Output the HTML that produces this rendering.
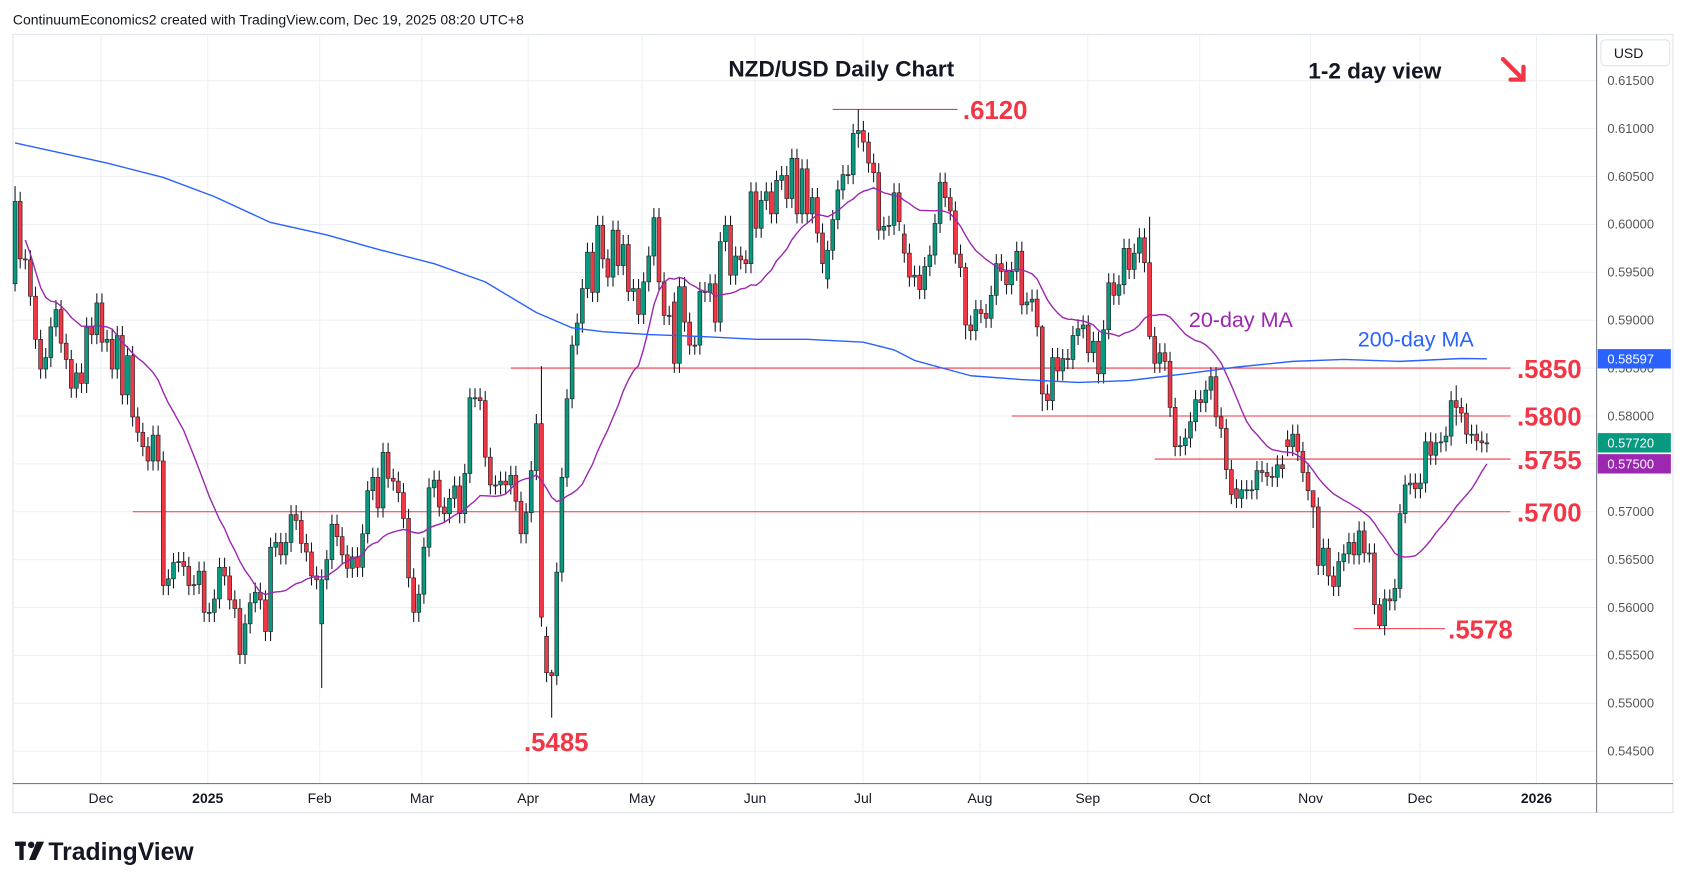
<!DOCTYPE html>
<html><head><meta charset="utf-8">
<style>
html,body{margin:0;padding:0;background:#fff;width:1687px;height:889px;overflow:hidden;font-family:"Liberation Sans",sans-serif;}
svg{display:block}
</style></head>
<body>
<svg id="chart" width="1687" height="889" viewBox="0 0 1568 826" preserveAspectRatio="none" xmlns="http://www.w3.org/2000/svg">
  <text x="12" y="23" font-size="13" fill="#131722">ContinuumEconomics2 created with TradingView.com, Dec 19, 2025 08:20 UTC+8</text>
  <rect x="12" y="32" width="1543" height="723" fill="none" stroke="#e0e3eb" stroke-width="1"/>
  <g id="grid"></g>
  <g id="levels"></g>
  <g id="candles"></g>
  <g id="mas"></g>
  <line x1="1484" y1="32" x2="1484" y2="755" stroke="#787b86" stroke-width="1"/>
  <line x1="12" y1="728" x2="1555" y2="728" stroke="#787b86" stroke-width="1"/>
  <g id="yaxis"></g>
  <g id="xaxis"></g>
  <rect x="1488" y="37" width="64" height="24" rx="4" fill="#fff" stroke="#e0e3eb"/>
  <text x="1500" y="54" font-size="13" fill="#131722">USD</text>
  <text x="677" y="71" font-size="21" font-weight="bold" fill="#131722">NZD/USD Daily Chart</text>
  <text x="1216" y="73" font-size="21" font-weight="bold" fill="#131722">1-2 day view</text>
  <g stroke="#f23645" stroke-width="4" fill="none" stroke-linecap="round">
    <line x1="1397" y1="55" x2="1415" y2="73"/><polyline points="1404,74 1416,74 1416,62"/>
  </g>
  <text x="1105" y="304" font-size="20" fill="#9c27b0">20-day MA</text>
  <text x="1262" y="322" font-size="20" fill="#2962ff">200-day MA</text>
  <g id="tags"></g>
  <g>
    <rect x="14" y="782" width="10" height="4" fill="#131722"/><rect x="18" y="782" width="4" height="17" fill="#131722"/>
    <circle cx="29" cy="785" r="3" fill="#131722"/><polygon points="34,782 41,782 33,799 27,799" fill="#131722"/>
    <text x="45" y="799" font-size="23" font-weight="bold" fill="#131722">TradingView</text>
  </g>
</svg>
<script>
const closes=[0.6024,0.5964,0.5963,0.5925,0.5880,0.5849,0.5861,0.5893,0.5911,0.5876,0.5859,0.5829,0.5845,0.5834,0.5893,0.5885,0.5918,0.5877,0.5880,0.5849,0.5884,0.5822,0.5863,0.5799,0.5783,0.5768,0.5753,0.5780,0.5753,0.5623,0.5630,0.5647,0.5648,0.5643,0.5623,0.5624,0.5638,0.5595,0.5595,0.5609,0.5642,0.5633,0.5608,0.5599,0.5551,0.5583,0.5605,0.5616,0.5608,0.5575,0.5663,0.5668,0.5655,0.5668,0.5697,0.5691,0.5667,0.5658,0.5633,0.5629,0.5629,0.5650,0.5687,0.5674,0.5655,0.5641,0.5653,0.5642,0.5677,0.5722,0.5736,0.5704,0.5762,0.5735,0.5732,0.5720,0.5693,0.5631,0.5595,0.5614,0.5663,0.5725,0.5733,0.5705,0.5698,0.5714,0.5727,0.5698,0.5740,0.5819,0.5819,0.5816,0.5757,0.5728,0.5728,0.5732,0.5728,0.5738,0.5711,0.5677,0.5699,0.5743,0.5792,0.5590,0.5532,0.5529,0.5637,0.5736,0.5818,0.5874,0.5897,0.5933,0.5971,0.5929,0.5999,0.5964,0.5945,0.5994,0.5957,0.5979,0.5930,0.5933,0.5906,0.5940,0.5967,0.6007,0.5940,0.5905,0.5905,0.5855,0.5935,0.5898,0.5874,0.5874,0.5930,0.5929,0.5938,0.5898,0.5982,0.5999,0.5947,0.5967,0.5963,0.5959,0.6034,0.5996,0.6025,0.6034,0.6011,0.6046,0.6051,0.6027,0.6069,0.6011,0.6058,0.6011,0.6028,0.5991,0.5959,0.5973,0.6005,0.6036,0.6052,0.6052,0.6095,0.6098,0.6086,0.6064,0.6054,0.5994,0.5998,0.5999,0.6033,0.6003,0.5970,0.5945,0.5947,0.5932,0.5956,0.5968,0.6001,0.6044,0.6028,0.6014,0.5969,0.5955,0.5895,0.5889,0.5911,0.5907,0.5902,0.5926,0.5959,0.5951,0.5937,0.5951,0.5972,0.5916,0.5919,0.5922,0.5893,0.5823,0.5816,0.5861,0.5847,0.5860,0.5859,0.5884,0.5891,0.5895,0.5866,0.5878,0.5844,0.5890,0.5939,0.5926,0.5937,0.5975,0.5953,0.5970,0.5986,0.5960,0.5883,0.5855,0.5866,0.5857,0.5809,0.5768,0.5769,0.5777,0.5794,0.5817,0.5814,0.5827,0.5841,0.5799,0.5787,0.5744,0.5718,0.5714,0.5723,0.5723,0.5723,0.5743,0.5741,0.5737,0.5736,0.5749,0.5745,0.5768,0.5781,0.5763,0.5741,0.5722,0.5705,0.5644,0.5662,0.5633,0.5622,0.5648,0.5656,0.5668,0.5655,0.5680,0.5657,0.5657,0.5603,0.5581,0.5609,0.5607,0.5620,0.5698,0.5728,0.5730,0.5724,0.5730,0.5773,0.5759,0.5772,0.5773,0.5779,0.5816,0.5809,0.5803,0.5781,0.5781,0.5774,0.5772,0.5772];
const firstOpen=0.5938;
const gapIdx=[60,104,129,159,174,239,249];
const gapOpen=[0.5583,0.5570,0.5919,0.5943,0.5990,0.5724,0.5775];
const wickIdx=[0,60,103,105,165,186,201,222,254,267,282];
const wickHigh=[0.6040,0.5640,0.5852,0.5535,0.6120,0.5960,0.5895,0.6008,0.5710,0.5610,0.5832];
const wickLow=[0.5930,0.5516,0.5580,0.5485,0.6080,0.5880,0.5805,0.5880,0.5683,0.5578,0.5790];
const ma200Idx=[0,18,29,39,50,61,71,82,92,102,109,115,124,134,145,155,166,172,176,187,197,208,218,229,239,250,260,271,283,288];
const ma200Val=[0.6085,0.6064,0.6049,0.6029,0.6002,0.5989,0.5974,0.5959,0.5940,0.5908,0.5892,0.5888,0.5885,0.5883,0.5880,0.5880,0.5877,0.5869,0.5858,0.5842,0.5838,0.5835,0.5837,0.5844,0.5851,0.5857,0.5859,0.5857,0.5860,0.58597];
const priceTicks=[0.615,0.610,0.605,0.600,0.595,0.590,0.585,0.580,0.575,0.570,0.565,0.560,0.555,0.550,0.545];
const monthLabels=["Dec","2025","Feb","Mar","Apr","May","Jun","Jul","Aug","Sep","Oct","Nov","Dec","2026"];
const monthIdx=[16.8,37.7,59.6,79.6,100.4,122.7,144.8,165.9,188.8,209.9,231.8,253.5,274.9,297.7];
const levelVals=[0.6120,0.5850,0.5800,0.5755,0.5700,0.5578,0.5485];
const levelText=[".6120",".5850",".5800",".5755",".5700",".5578",".5485"];
const levelStartIdx=[160,97,195,223,23,262,null];

const NS="http://www.w3.org/2000/svg";
const y=p=>75+(0.615-p)/0.005*44.5;
const x=i=>14+i*4.75;
function mk(tag,attrs,parent){const e=document.createElementNS(NS,tag);for(const k in attrs)e.setAttribute(k,attrs[k]);parent.appendChild(e);return e;}
const grid=document.getElementById('grid'),yax=document.getElementById('yaxis'),xax=document.getElementById('xaxis');
priceTicks.forEach(p=>{
  const l=mk('line',{x1:12,x2:1484,y1:y(p),y2:y(p),stroke:'#edf1f6','stroke-width':1},grid);
  
  
  const t=mk('text',{x:1494,y:y(p)+4,'font-size':12,fill:'#555'},yax);
  
  
  t.textContent=p.toFixed(5);
});
monthLabels.forEach((m,k)=>{
  const xx=x(monthIdx[k]);
  const l=mk('line',{x1:xx,x2:xx,y1:32,y2:728,stroke:'#edf1f6','stroke-width':1},grid);
  
  
  const bold=(m==="2025"||m==="2026");
  const t=mk('text',{x:xx,y:746,'font-size':13,fill:'#131722','text-anchor':'middle','font-weight':bold?'bold':'normal'},xax);
  
  
  t.textContent=m;
});
const lv=document.getElementById('levels');
levelVals.forEach((v,k)=>{
  const yy=y(v);
  if(levelStartIdx[k]!==null){
    const endX=k===0?890:(k===5?1343:1404);
    const l=mk('line',{x1:x(levelStartIdx[k]),x2:endX,y1:yy,y2:yy,stroke:'#f23645','stroke-width':1},lv);
    
    
  }
  let tx=1410,ty=yy+9;
  if(k===0){tx=895;ty=yy+9;}
  if(k===5){tx=1346;ty=yy+9;}
  if(k===6){tx=487;ty=698;}
  const t=mk('text',{x:tx,y:ty,'font-size':24,fill:'#f23645','font-weight':'bold'},lv);
  
  
  t.textContent=levelText[k];
});
const cg=document.getElementById('candles');
closes.forEach((c,i)=>{
  let o=i===0?firstOpen:closes[i-1];
  const g=gapIdx.indexOf(i); if(g>=0)o=gapOpen[g];
  let hi=Math.max(o,c)+0.0010, lo=Math.min(o,c)-0.0010;
  const w=wickIdx.indexOf(i); if(w>=0){hi=wickHigh[w];lo=wickLow[w];}
  const up=c>=o, col=up?'#089981':'#f23645';
  const xx=x(i);
  const wk=mk('line',{x1:xx,x2:xx,y1:y(hi),y2:y(lo),stroke:'#131722','stroke-width':1},cg);
  
  
  const top=y(Math.max(o,c)),h=Math.max(1,y(Math.min(o,c))-top);
  const b=mk('rect',{x:xx-1.8,y:top,width:3.6,height:h,fill:col,stroke:'#222','stroke-width':0.6},cg);
  
  
});
const mg=document.getElementById('mas');
let pts=[];
closes.forEach((c,i)=>{if(i<2)return;const s=closes.slice(Math.max(0,i-19),i+1);const a=s.reduce((p,q)=>p+q,0)/s.length;pts.push(x(i)+','+y(a));});
const m20=mk('polyline',{points:pts.join(' '),fill:'none',stroke:'#9c27b0','stroke-width':1.3},mg);


const m200=mk('polyline',{points:ma200Idx.map((ii,k)=>x(ii)+','+y(ma200Val[k])).join(' '),fill:'none',stroke:'#2962ff','stroke-width':1.3,'stroke-linejoin':'round'},mg);


const tg=document.getElementById('tags');
const last=closes[closes.length-1];
const s20=closes.slice(-20).reduce((p,q)=>p+q,0)/20;
[[ma200Val[ma200Val.length-1],'#2962ff','ma200-tag'],[last,'#089981','last-price-tag'],[s20,'#9c27b0','ma20-tag']].forEach(([v,col,nm],k)=>{
  let yy=y(v); if(k===2)yy=Math.max(yy,y(last)+19);
  const r=mk('rect',{x:1485,y:yy-9,width:68,height:18,fill:col},tg);
  
  
  const t=mk('text',{x:1494,y:yy+4.5,'font-size':12,fill:'#fff'},tg);
  
  
  t.textContent=v.toFixed(5);
});
</script>
</body></html>
